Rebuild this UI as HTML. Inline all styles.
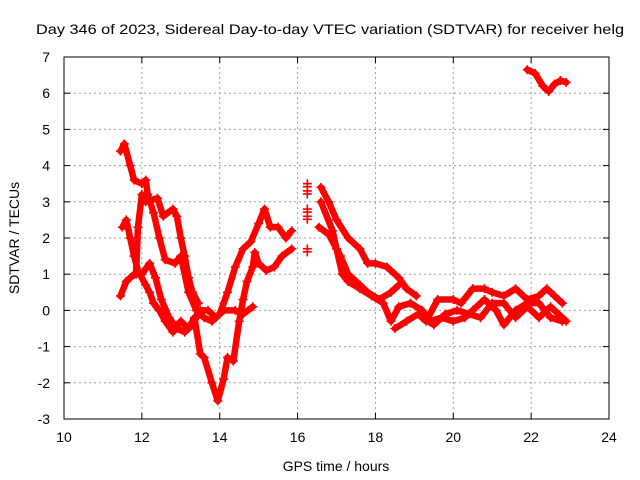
<!DOCTYPE html>
<html><head><meta charset="utf-8"><style>
html,body{margin:0;padding:0;background:#fff;}
svg{display:block;font-family:"Liberation Sans",sans-serif;}
</style></head><body>
<svg id="chart" width="640" height="480" viewBox="0 0 640 480">
<text x="36" y="34" font-size="14" textLength="588" lengthAdjust="spacingAndGlyphs">Day 346 of 2023, Sidereal Day-to-day VTEC variation (SDTVAR) for receiver helg</text>
<g id="grid"></g>
<g id="series"></g>
<rect x="64" y="57" width="545" height="362" fill="none" stroke="#000" stroke-width="1"/>
<g id="ticks"></g>
<text x="336" y="471" font-size="14" text-anchor="middle">GPS time / hours</text>
<text x="0" y="0" font-size="14" text-anchor="middle" transform="translate(19,238) rotate(-90)">SDTVAR / TECUs</text>
</svg>
<script>
const xTicks = [10,12,14,16,18,20,22,24];
const yTicks = [-3,-2,-1,0,1,2,3,4,5,6,7];
const trace1 = [[11.45,4.4],[11.55,4.6],[11.7,4.0],[11.8,3.6],[12.0,3.5],[12.1,3.6],[12.15,3.2],[12.3,2.7],[12.45,2.0],[12.6,1.4],[12.85,1.3],[13.0,1.5],[13.2,0.5],[13.4,0.0],[13.6,-0.2],[13.8,-0.3],[14.0,-0.1],[14.2,0.5],[14.4,1.2],[14.6,1.7],[14.8,1.9],[15.0,2.4],[15.15,2.8],[15.3,2.3],[15.5,2.3],[15.7,2.0],[15.85,2.2]];
const trace2 = [[11.5,2.3],[11.6,2.5],[11.7,2.0],[11.8,1.5],[11.9,1.1],[12.1,0.7],[12.2,0.5],[12.3,0.2],[12.45,0.0],[12.6,-0.3],[12.8,-0.6],[13.0,-0.3],[13.2,-0.5],[13.35,-0.2],[13.5,-1.2],[13.6,-1.3],[13.8,-2.0],[13.95,-2.5],[14.1,-1.9],[14.2,-1.3],[14.35,-1.4],[14.5,-0.3],[14.6,0.3],[14.7,0.8],[14.85,1.2],[14.9,1.6],[15.0,1.3],[15.2,1.1],[15.4,1.2],[15.6,1.5],[15.85,1.7]];
const trace3 = [[11.45,0.4],[11.6,0.8],[11.8,1.0],[12.0,1.0],[12.2,1.3],[12.35,0.9],[12.5,0.3],[12.7,-0.2],[12.9,-0.5],[13.1,-0.6],[13.3,-0.4],[13.5,0.0],[13.7,0.0],[13.9,-0.2],[14.1,0.0],[14.4,0.0],[14.6,-0.1],[14.85,0.1]];
const trace4 = [[11.85,1.0],[11.9,2.3],[12.0,3.2],[12.1,3.0],[12.4,3.1],[12.55,2.6],[12.8,2.8],[12.9,2.6],[13.0,2.0],[13.1,1.5],[13.2,0.9],[13.3,0.5],[13.45,0.2]];
const trace5 = [[16.6,3.4],[16.8,3.0],[17.0,2.5],[17.3,2.0],[17.6,1.7],[17.8,1.3],[18.0,1.3],[18.3,1.2],[18.6,0.9],[18.8,0.6],[19.05,0.4]];
const trace6 = [[16.55,2.3],[16.8,2.1],[17.1,1.5],[17.3,1.0],[17.6,0.7],[17.8,0.5],[18.1,0.3],[18.4,0.5],[18.6,0.7]];
const trace7 = [[16.6,3.0],[16.9,2.2],[17.0,1.7],[17.15,1.0],[17.3,0.8],[17.6,0.6],[17.9,0.4],[18.2,0.2],[18.4,-0.3],[18.6,0.1],[18.9,0.2],[19.2,0.0],[19.4,-0.3],[19.7,-0.2],[20.0,-0.3],[20.3,-0.2],[20.5,0.0],[20.8,0.3],[21.1,0.0],[21.3,-0.4],[21.6,0.0],[21.9,0.2],[22.2,0.2],[22.5,-0.2],[22.8,-0.3]];
const trace8 = [[18.5,-0.5],[18.8,-0.3],[19.1,-0.1],[19.3,-0.3],[19.6,0.3],[20.0,0.3],[20.2,0.2],[20.5,0.6],[20.8,0.6],[21.0,0.5],[21.3,0.4],[21.6,0.6],[21.9,0.3],[22.2,0.4],[22.4,0.6],[22.6,0.4],[22.8,0.2]];
const trace9 = [[19.2,-0.2],[19.5,-0.4],[19.8,-0.1],[20.1,0.0],[20.4,-0.1],[20.7,-0.2],[21.0,0.2],[21.3,0.2],[21.6,-0.2],[21.9,0.1],[22.2,-0.2],[22.5,0.1],[22.9,-0.3]];
const trace10 = [[21.9,6.65],[22.1,6.55],[22.3,6.2],[22.45,6.05],[22.6,6.25],[22.75,6.35],[22.9,6.3]];
const isolated = [[16.25,3.5],[16.25,3.3],[16.25,2.8],[16.25,2.6],[16.25,1.7]];
const traces = [trace1,trace2,trace3,trace4,trace5,trace6,trace7,trace8,trace9,trace10];

const NS = "http://www.w3.org/2000/svg";
const X0=64, X1=609, Y0=419, Y1=57;
function sx(v){return X0+(v-10)/(24-10)*(X1-X0);}
function sy(v){return Y0-(v+3)/(7+3)*(Y0-Y1);}
function mk(tag, attrs, parent){const e=document.createElementNS(NS,tag);for(const k in attrs)e.setAttribute(k,attrs[k]);parent.appendChild(e);return e;}

const grid=document.getElementById('grid'), ticks=document.getElementById('ticks'), series=document.getElementById('series');
xTicks.forEach(t=>{
  const x=sx(t);
  if(t>10&&t<24){
    const g=mk('line',{x1:x,x2:x,y1:Y1,y2:Y0,stroke:'#a0a0a0','stroke-dasharray':'2,3','stroke-width':1},grid);
    
    
  }
  const tk=mk('line',{x1:x,x2:x,y1:Y0,y2:Y0-6,stroke:'#000'},grid);
  
  
  const tk2=mk('line',{x1:x,x2:x,y1:Y1,y2:Y1+6,stroke:'#000'},grid);
  
  
  const lb=mk('text',{x:x,y:442,'font-size':14,'text-anchor':'middle'},ticks);
  lb.textContent=t;
  
  
});
yTicks.forEach(t=>{
  const y=sy(t);
  if(t>-3&&t<7){
    const g=mk('line',{x1:X0,x2:X1,y1:y,y2:y,stroke:'#a0a0a0','stroke-dasharray':'2,3','stroke-width':1},grid);
    
    
  }
  const tk=mk('line',{x1:X0,x2:X0+6,y1:y,y2:y,stroke:'#000'},grid);
  
  
  const tk2=mk('line',{x1:X1,x2:X1-6,y1:y,y2:y,stroke:'#000'},grid);
  
  
  const lb=mk('text',{x:50,y:y+5,'font-size':14,'text-anchor':'end'},ticks);
  lb.textContent=t;
  
  
});
function plus(x,y,name){
  const p=mk('path',{d:`M${x-4.5},${y}H${x+4.5}M${x},${y-4.5}V${y+4.5}`,stroke:'#f00','stroke-width':1.6,fill:'none'},series);
  
  
}
traces.forEach((tr,i)=>{
  const pl=mk('polyline',{points:tr.map(p=>sx(p[0])+','+sy(p[1])).join(' '),fill:'none',stroke:'#f00','stroke-width':6.5,'stroke-linejoin':'round','stroke-linecap':'round'},series);
  
  
  tr.forEach(p=>plus(sx(p[0]),sy(p[1]),'trace-point'));
});
isolated.forEach(p=>{plus(sx(p[0]),sy(p[1]),'isolated-point');plus(sx(p[0]),sy(p[1])+3,'isolated-point');});
</script>
</body></html>
